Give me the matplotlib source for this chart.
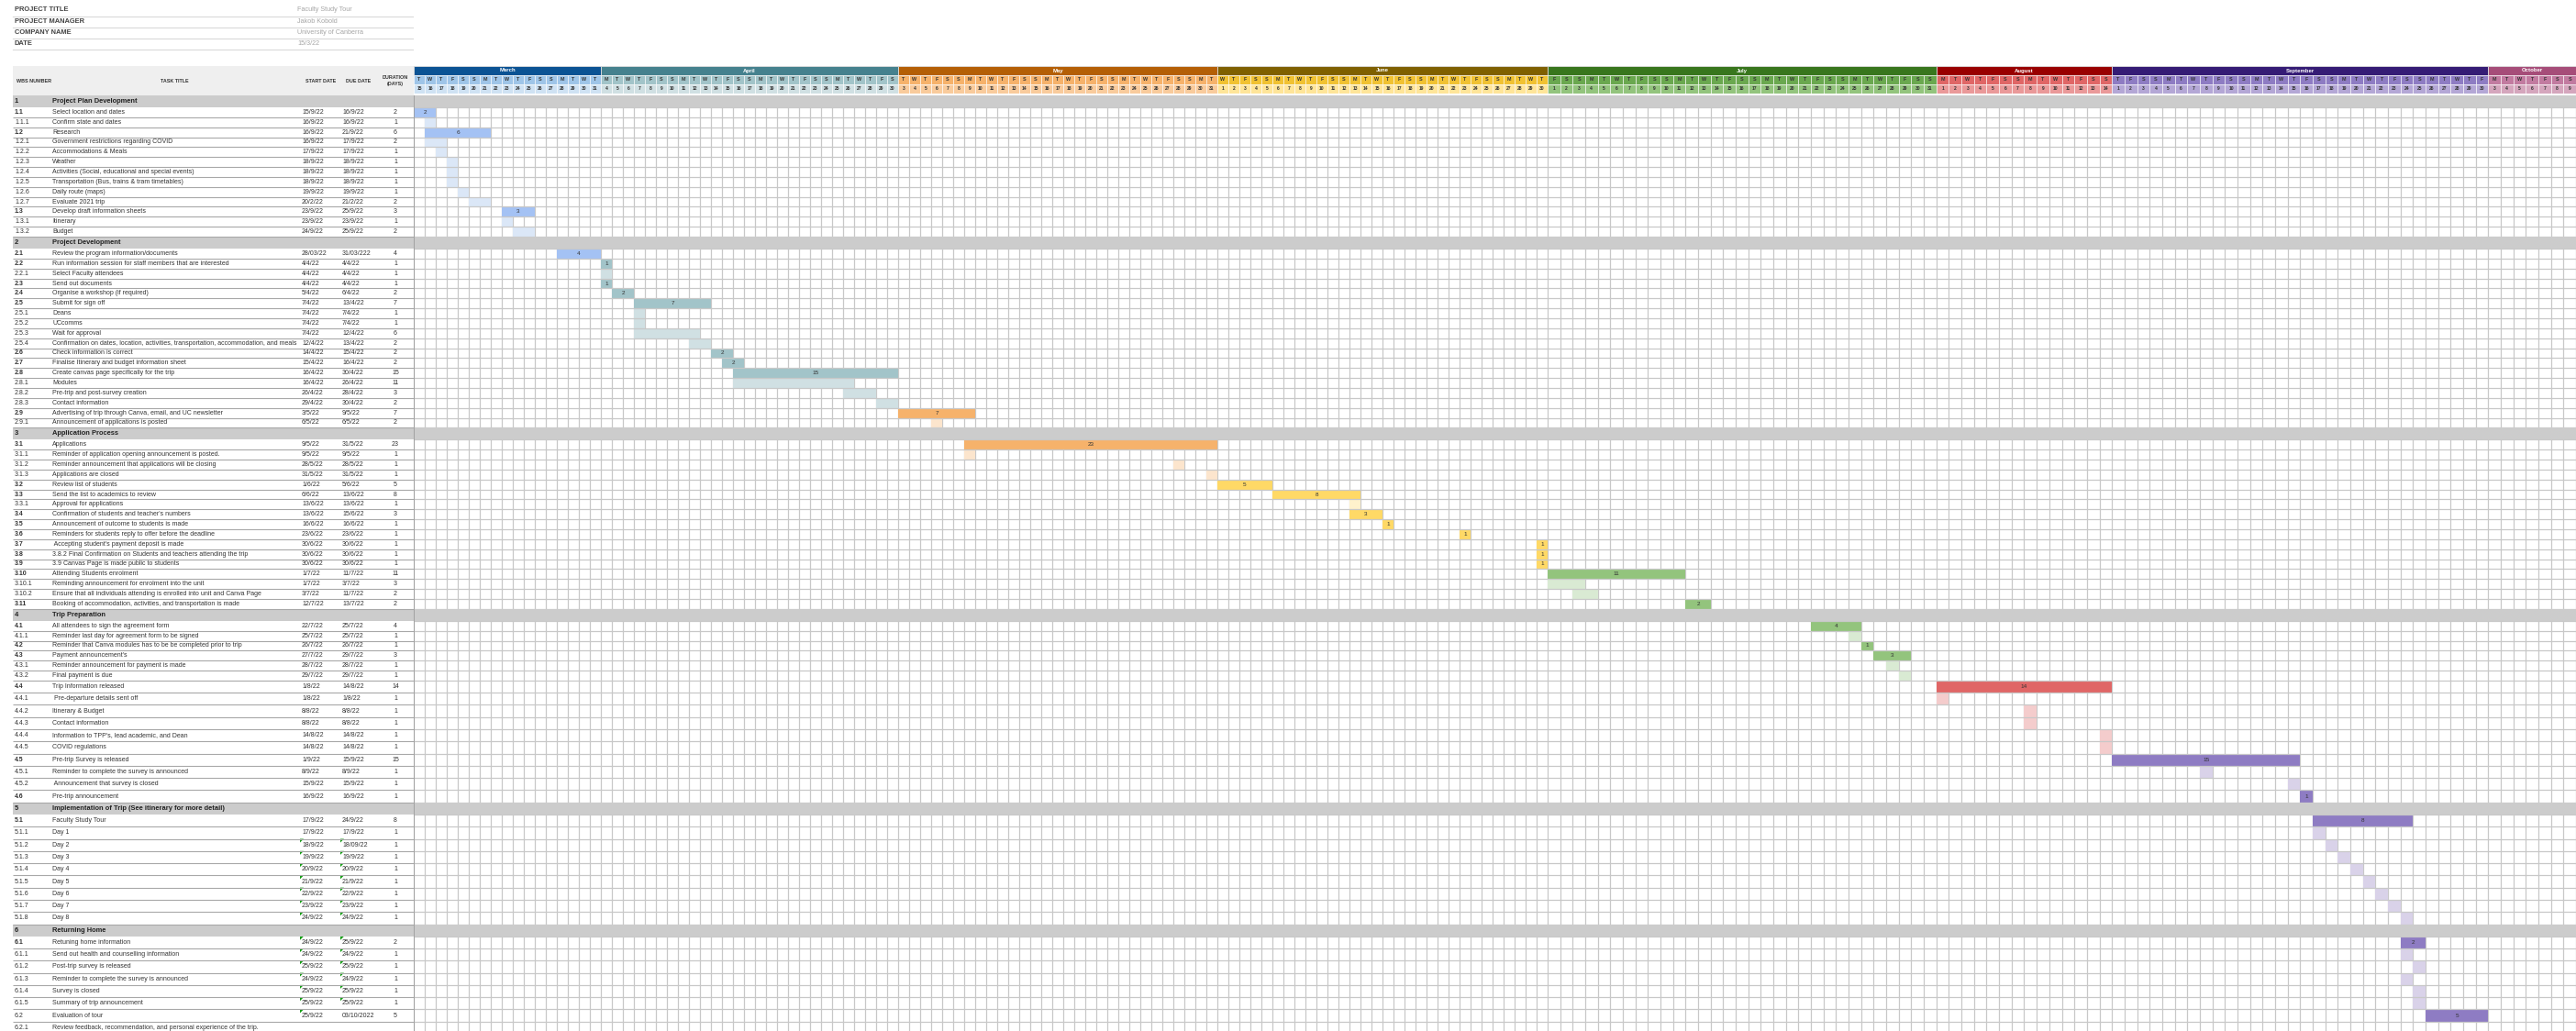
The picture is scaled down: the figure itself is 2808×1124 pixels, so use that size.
import datetime as dt
import numpy as np
import matplotlib.pyplot as plt
from matplotlib.patches import Rectangle, Polygon

plt.rcParams['font.family'] = ['Liberation Sans', 'DejaVu Sans']

W, H = 2808, 1124

# ---------------- data ----------------
info_labels = ['PROJECT TITLE', 'PROJECT MANAGER', 'COMPANY NAME', 'DATE']
info_values = ['Faculty Study Tour', 'Jakob Kobold', 'University of Canberra', '15/3/22']

month_nums = [3, 4, 5, 6, 7, 8, 9, 10]
month_names = ['March', 'April', 'May', 'June', 'July', 'August', 'September', 'October']
month_first = [15, 4, 3, 1, 1, 1, 1, 3]
month_last = [31, 30, 31, 30, 31, 14, 30, 9]
month_dark = ['#0b5394', '#45818e', '#b45f06', '#7f6000', '#38761d', '#990000', '#351c75', '#a64d79']
month_mid = ['#9fc5e8', '#a2c4c9', '#f6b26b', '#f1c232', '#6aa84f', '#e06666', '#8e7cc3', '#c27ba0']
month_light = ['#cfe2f3', '#d0e0e3', '#f9cb9c', '#ffe599', '#93c47d', '#ea9999', '#b4a7d6', '#d5a6bd']
bar_main = ['#a4c2f4', '#a2c4c9', '#f6b26b', '#ffd966', '#93c47d', '#e06666', '#8e7cc3', '#c27ba0']
bar_sub = ['#dbe7f7', '#d0e0e3', '#fce5cd', '#fff2cc', '#d9ead3', '#f4cccc', '#d9d2e9', '#ead1dc']

wbs = ['1', '1.1', '1.1.1', '1.2', '1.2.1', '1.2.2', '1.2.3', '1.2.4', '1.2.5', '1.2.6', '1.2.7',
       '1.3', '1.3.1', '1.3.2',
       '2', '2.1', '2.2', '2.2.1', '2.3', '2.4', '2.5', '2.5.1', '2.5.2', '2.5.3', '2.5.4', '2.6',
       '2.7', '2.8', '2.8.1', '2.8.2', '2.8.3', '2.9', '2.9.1',
       '3', '3.1', '3.1.1', '3.1.2', '3.1.3', '3.2', '3.3', '3.3.1', '3.4', '3.5', '3.6', '3.7',
       '3.8', '3.9', '3.10', '3.10.1', '3.10.2', '3.11',
       '4', '4.1', '4.1.1', '4.2', '4.3', '4.3.1', '4.3.2', '4.4', '4.4.1', '4.4.2', '4.4.3',
       '4.4.4', '4.4.5', '4.5', '4.5.1', '4.5.2', '4.6',
       '5', '5.1', '5.1.1', '5.1.2', '5.1.3', '5.1.4', '5.1.5', '5.1.6', '5.1.7', '5.1.8',
       '6', '6.1', '6.1.1', '6.1.2', '6.1.3', '6.1.4', '6.1.5', '6.2', '6.2.1']

tasks = ['Project Plan Development', 'Select location and dates', 'Confirm state and dates',
         'Research', 'Government restrictions regarding COVID', 'Accommodations & Meals',
         'Weather', 'Activities (Social, educational and special events)',
         'Transportation (Bus, trains & tram timetables)', 'Daily route (maps)',
         'Evaluate 2021 trip', 'Develop draft information sheets', 'Itinerary', 'Budget',
         'Project Development', 'Review the program information/documents',
         'Run information session for staff members that are interested',
         'Select Faculty attendees', 'Send out documents', 'Organise a workshop (if required)',
         'Submit for sign off', 'Deans', 'UCcomms', 'Wait for approval',
         'Confirmation on dates, location, activities, transportation, accommodation, and meals',
         'Check information is correct', 'Finalise Itinerary and budget information sheet',
         'Create canvas page specifically for the trip', 'Modules',
         'Pre-trip and post-survey creation', 'Contact information',
         'Advertising of trip through Canva, email, and UC newsletter',
         'Announcement of applications is posted',
         'Application Process', 'Applications',
         'Reminder of application opening announcement is posted.',
         'Reminder announcement that applications will be closing', 'Applications are closed',
         'Review list of students', 'Send the list to academics to review',
         'Approval for applications', "Confirmation of students and teacher's numbers",
         'Announcement of outcome to students is made',
         'Reminders for students reply to offer before the deadline',
         " Accepting student's payment deposit is made",
         '3.8.2 Final Confirmation on Students and teachers attending the trip',
         '3.9 Canvas Page is made public to students', 'Attending Students enrolment',
         'Reminding announcement for enrolment into the unit',
         'Ensure that all individuals attending is enrolled into unit and Canva Page',
         'Booking of accommodation, activities, and transportation is made',
         'Trip Preparation', 'All attendees to sign the agreement form',
         'Reminder last day for agreement form to be signed',
         'Reminder that Canva modules has to be be completed prior to trip',
         "Payment announcement's", 'Reminder announcement for payment is made',
         'Final payment is due', 'Trip Information released', ' Pre-departure details sent off',
         'Itinerary & Budget', 'Contact information',
         "Information to TPP's, lead academic, and Dean", 'COVID regulations',
         'Pre-trip Survey is released', 'Reminder to complete the survey is announced',
         ' Announcement that survey is closed', 'Pre-trip announcement',
         'Implementation of Trip (See itinerary for more detail)', 'Faculty Study Tour',
         'Day 1', 'Day 2', 'Day 3', 'Day 4', 'Day 5', 'Day 6', 'Day 7', 'Day 8',
         'Returning Home', 'Retuning home information',
         'Send out health and counselling information', 'Post-trip survey is released',
         'Reminder to complete the survey is announced', 'Survey is closed',
         'Summary of trip announcement', 'Evaluation of tour',
         'Review feedback, recommendation, and personal experience of the trip.']

start_txt = ['', '15/9/22', '16/9/22', '16/9/22', '16/9/22', '17/9/22', '18/9/22', '18/9/22',
             '18/9/22', '19/9/22', '20/2/22', '23/9/22', '23/9/22', '24/9/22',
             '', '28/03/22', '4/4/22', '4/4/22', '4/4/22', '5/4/22', '7/4/22', '7/4/22', '7/4/22',
             '7/4/22', '12/4/22', '14/4/22', '15/4/22', '16/4/22', '16/4/22', '26/4/22',
             '29/4/22', '3/5/22', '6/5/22',
             '', '9/5/22', '9/5/22', '28/5/22', '31/5/22', '1/6/22', '6/6/22', '13/6/22',
             '13/6/22', '16/6/22', '23/6/22', '30/6/22', '30/6/22', '30/6/22', '1/7/22',
             '1/7/22', '3/7/22', '12/7/22',
             '', '22/7/22', '25/7/22', '26/7/22', '27/7/22', '28/7/22', '29/7/22', '1/8/22',
             '1/8/22', '8/8/22', '8/8/22', '14/8/22', '14/8/22', '1/9/22', '8/9/22', '15/9/22',
             '16/9/22',
             '', '17/9/22', '17/9/22', '18/9/22', '19/9/22', '20/9/22', '21/9/22', '22/9/22',
             '23/9/22', '24/9/22',
             '', '24/9/22', '24/9/22', '25/9/22', '24/9/22', '25/9/22', '25/9/22', '25/9/22', '']

due_txt = ['', '16/9/22', '16/9/22', '21/9/22', '17/9/22', '17/9/22', '18/9/22', '18/9/22',
           '18/9/22', '19/9/22', '21/2/22', '25/9/22', '23/9/22', '25/9/22',
           '', '31/03/222', '4/4/22', '4/4/22', '4/4/22', '6/4/22', '13/4/22', '7/4/22',
           '7/4/22', '12/4/22', '13/4/22', '15/4/22', '16/4/22', '30/4/22', '26/4/22',
           '28/4/22', '30/4/22', '9/5/22', '6/5/22',
           '', '31/5/22', '9/5/22', '28/5/22', '31/5/22', '5/6/22', '13/6/22', '13/6/22',
           '15/6/22', '16/6/22', '23/6/22', '30/6/22', '30/6/22', '30/6/22', '11/7/22',
           '3/7/22', '11/7/22', '13/7/22',
           '', '25/7/22', '25/7/22', '26/7/22', '29/7/22', '28/7/22', '29/7/22', '14/8/22',
           '1/8/22', '8/8/22', '8/8/22', '14/8/22', '14/8/22', '15/9/22', '8/9/22', '15/9/22',
           '16/9/22',
           '', '24/9/22', '17/9/22', '18/09/22', '19/9/22', '20/9/22', '21/9/22', '22/9/22',
           '23/9/22', '24/9/22',
           '', '25/9/22', '24/9/22', '25/9/22', '24/9/22', '25/9/22', '25/9/22', '03/10/2022', '']

dur_txt = ['', '2', '1', '6', '2', '1', '1', '1', '1', '1', '2', '3', '1', '2',
           '', '4', '1', '1', '1', '2', '7', '1', '1', '6', '2', '2', '2', '15', '11', '3', '2',
           '7', '2',
           '', '23', '1', '1', '1', '5', '8', '1', '3', '1', '1', '1', '1', '1', '11', '3', '2', '2',
           '', '4', '1', '1', '3', '1', '1', '14', '1', '1', '1', '1', '1', '15', '1', '1', '1',
           '', '8', '1', '1', '1', '1', '1', '1', '1', '1',
           '', '2', '1', '1', '1', '1', '1', '5', '']

# bars on the timeline (day/month, 2022)
bar_from = ['', '15/3', '16/3', '16/3', '16/3', '17/3', '18/3', '18/3', '18/3', '19/3', '20/3',
            '23/3', '23/3', '24/3',
            '', '28/3', '4/4', '4/4', '4/4', '5/4', '7/4', '7/4', '7/4', '7/4', '12/4', '14/4',
            '15/4', '16/4', '16/4', '26/4', '29/4', '3/5', '6/5',
            '', '9/5', '9/5', '28/5', '31/5', '1/6', '6/6', '13/6', '13/6', '16/6', '23/6',
            '30/6', '30/6', '30/6', '1/7', '1/7', '3/7', '12/7',
            '', '22/7', '25/7', '26/7', '27/7', '28/7', '29/7', '1/8', '1/8', '8/8', '8/8',
            '14/8', '14/8', '1/9', '8/9', '15/9', '16/9',
            '', '17/9', '17/9', '18/9', '19/9', '20/9', '21/9', '22/9', '23/9', '24/9',
            '', '24/9', '24/9', '25/9', '24/9', '25/9', '25/9', '26/9', '']
bar_to = ['', '16/3', '16/3', '21/3', '17/3', '17/3', '18/3', '18/3', '18/3', '19/3', '21/3',
          '25/3', '23/3', '25/3',
          '', '31/3', '4/4', '4/4', '4/4', '6/4', '13/4', '7/4', '7/4', '12/4', '13/4', '15/4',
          '16/4', '30/4', '26/4', '28/4', '30/4', '9/5', '6/5',
          '', '31/5', '9/5', '28/5', '31/5', '5/6', '13/6', '13/6', '15/6', '16/6', '23/6',
          '30/6', '30/6', '30/6', '11/7', '3/7', '4/7', '13/7',
          '', '25/7', '25/7', '26/7', '29/7', '28/7', '29/7', '14/8', '1/8', '8/8', '8/8',
          '14/8', '14/8', '15/9', '8/9', '15/9', '16/9',
          '', '24/9', '17/9', '18/9', '19/9', '20/9', '21/9', '22/9', '23/9', '24/9',
          '', '25/9', '24/9', '25/9', '24/9', '25/9', '25/9', '30/9', '']

not_bold = ['6.2']
note_rows = ['5.1.2', '5.1.3', '5.1.4', '5.1.5', '5.1.6', '5.1.7', '5.1.8',
             '6.1', '6.1.1', '6.1.2', '6.1.3', '6.1.4', '6.1.5', '6.2']

# ---------------- layout ----------------
tab_x0, gx0 = 14, 451
hdr_top, hdr_bot = 72, 102
body_top = 104
early_w = 12.0

# timeline columns
col_dates, col_month = [], []
for k, m in enumerate(month_nums):
    for d in range(month_first[k], month_last[k] + 1):
        col_dates.append(dt.date(2022, m, d))
        col_month.append(k)
n_cols = len(col_dates)
col_of = {(c.day, c.month): i for i, c in enumerate(col_dates)}
n_early = sum(1 for k in col_month if k < 4)

xp = [0, n_early, n_cols]
xv = [0, n_early * early_w, W - gx0]


def xf(c):
    return np.interp(c, xp, xv)


def xi(p):
    return np.interp(p, xv, xp)


# row heights (spreadsheet rows get taller from 4.4 on)
row_h = []
tall = False
for w in wbs:
    if w == '4.4':
        tall = True
    if tall:
        row_h.append(13.28)
    elif '.' not in w:
        row_h.append(13.0)
    else:
        row_h.append(10.85)
edges = np.concatenate([[0], np.cumsum(row_h)])
n_rows = len(wbs)
ridx = np.arange(n_rows + 1)


def yf(r):
    return np.interp(r, ridx, edges)


def yi(p):
    return np.interp(p, edges, ridx)


fig = plt.figure(figsize=(W / 100, H / 100), dpi=100)


def px_axes(x0, y0, x1, y1):
    a = fig.add_axes([x0 / W, 1 - y1 / H, (x1 - x0) / W, (y1 - y0) / H])
    a.set_facecolor('none')
    a.axis('off')
    return a


# background axes in pixel units
bg = px_axes(0, 0, W, H)
bg.set_xlim(0, W)
bg.set_ylim(H, 0)

# project info block
for k, (lab, val) in enumerate(zip(info_labels, info_values)):
    y = 11 + k * 12.3
    bg.text(16, y, lab, fontsize=5.4, fontweight='bold', color='#434343', va='center')
    bg.text(324, y, val, fontsize=5.2, color='#a6a6a6', va='center')
    bg.plot([14, 450], [y + 6.5, y + 6.5], color='#d9d9d9', lw=0.8)

# table header
bg.add_patch(Rectangle((tab_x0, hdr_top), gx0 - tab_x0, body_top - hdr_top, fc='#efefef', ec='none'))
hy = (hdr_top + body_top) / 2
for x, lab, ha in [(18, 'WBS NUMBER', 'left'), (175, 'TASK TITLE', 'left'),
                   (333, 'START DATE', 'left'), (377, 'DUE DATE', 'left'),
                   (431, 'DURATION\n(DAYS)', 'center')]:
    bg.text(x, hy, lab, fontsize=3.9, fontweight='bold', color='#333333', ha=ha, va='center',
            linespacing=1.6)

# ---------------- table body ----------------
ax_t = px_axes(0, body_top, W, body_top + edges[-1])
ax_t.set_xlim(0, W)
ax_t.set_yscale('function', functions=(yf, yi))
ax_t.set_ylim(n_rows, 0)

for i, w in enumerate(wbs):
    yc = i + 0.5
    if '.' not in w:
        ax_t.add_patch(Rectangle((tab_x0, i), W - tab_x0, 1, fc='#cccccc', ec='none', zorder=0))
        ax_t.text(16, yc, w, fontsize=5.4, fontweight='bold', color='#222222', va='center')
        ax_t.text(57, yc, tasks[i], fontsize=5.4, fontweight='bold', color='#222222', va='center')
        continue
    bold = w.count('.') == 1 and w not in not_bold
    ax_t.text(16, yc, w, fontsize=5.0, fontweight='bold' if bold else 'normal',
              color='#333333', va='center')
    ax_t.text(57, yc, tasks[i], fontsize=5.0, color='#333333', va='center')
    ax_t.text(329, yc, start_txt[i], fontsize=5.0, color='#333333', va='center')
    ax_t.text(373, yc, due_txt[i], fontsize=5.0, color='#333333', va='center')
    ax_t.text(431, yc, dur_txt[i], fontsize=5.0, color='#333333', va='center', ha='center')
    ax_t.hlines(i + 1, tab_x0, gx0, colors='#a8a8a8', lw=0.8, zorder=1)

# comment markers on date cells
for i, w in enumerate(wbs):
    if w in note_rows:
        y0 = body_top + edges[i]
        xs = [327] if w == '6.2' else [327, 371]
        for x in xs:
            bg.add_patch(Polygon([(x, y0), (x + 4, y0), (x, y0 + 4)], closed=True,
                                 fc='#0f9d0f', ec='none'))

# ---------------- gantt body ----------------
ax_g = px_axes(gx0, body_top, W, body_top + edges[-1])
ax_g.set_xscale('function', functions=(xf, xi))
ax_g.set_yscale('function', functions=(yf, yi))
ax_g.set_xlim(0, n_cols)
ax_g.set_ylim(n_rows, 0)

ax_g.vlines(np.arange(n_cols + 1), 0, n_rows, colors='#c8c8c8', lw=0.9, zorder=1)
ax_g.hlines(np.arange(n_rows + 1), 0, n_cols, colors='#c8c8c8', lw=0.9, zorder=3)
ax_g.vlines(0, 0, n_rows, colors='#9a9a9a', lw=1.2, zorder=5)

for i, w in enumerate(wbs):
    if '.' not in w:
        ax_g.add_patch(Rectangle((0, i), n_cols, 1, fc='#cccccc', ec='none', zorder=4))
        continue
    if not bar_from[i]:
        continue
    c0 = col_of[tuple(int(v) for v in bar_from[i].split('/'))]
    c1 = col_of[tuple(int(v) for v in bar_to[i].split('/'))]
    mk = col_month[c0]
    main = w.count('.') == 1
    ax_g.add_patch(Rectangle((c0, i), c1 - c0 + 1, 1, fc=bar_main[mk] if main else bar_sub[mk],
                             ec='none', zorder=2))
    if main:
        ax_g.text((c0 + c1 + 1) / 2, i + 0.5, dur_txt[i], fontsize=4.6, color='#333333',
                  ha='center', va='center', zorder=6)

# ---------------- gantt header ----------------
ax_h = px_axes(gx0, hdr_top, W, hdr_bot)
ax_h.set_xscale('function', functions=(xf, xi))
ax_h.set_xlim(0, n_cols)
ax_h.set_ylim(3, 0)

for k, name in enumerate(month_names):
    cs = [i for i, m in enumerate(col_month) if m == k]
    ax_h.add_patch(Rectangle((cs[0], 0), len(cs), 1, fc=month_dark[k], ec='#dddddd', lw=0.6))
    ax_h.text(cs[0] + len(cs) / 2, 0.5, name, fontsize=4.3, fontweight='bold', color='white',
              ha='center', va='center')
for i, d in enumerate(col_dates):
    k = col_month[i]
    ax_h.add_patch(Rectangle((i, 1), 1, 1, fc=month_mid[k], ec='white', lw=0.4))
    ax_h.add_patch(Rectangle((i, 2), 1, 1, fc=month_light[k], ec='white', lw=0.4))
    ax_h.text(i + 0.5, 1.5, 'MTWTFSS'[d.weekday()], fontsize=3.9, fontweight='bold',
              color='#333333', ha='center', va='center')
    ax_h.text(i + 0.5, 2.5, str(d.day), fontsize=3.6, fontweight='bold', color='#333333',
              ha='center', va='center')

fig.savefig('out.png', dpi=100)
